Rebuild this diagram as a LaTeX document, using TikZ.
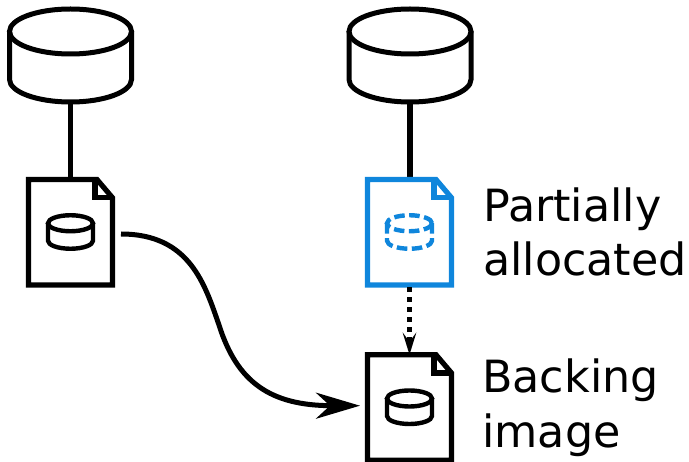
\documentclass[tikz,border=0pt]{standalone}
\usepackage{fontspec}
\setmainfont{DejaVu Sans}
\usetikzlibrary{arrows.meta}
\definecolor{allocblue}{HTML}{0F86DC}
\tikzset{
  x=1pt,y=-1pt,
  mainline/.style={line width=5.2pt,line join=miter},
  dbline/.style={},
  anchorbox/.style={inner sep=0pt,outer sep=0pt,draw=none},
  label/.style={anchor=base west,inner sep=0pt,font=\fontsize{44.4}{44.4}\selectfont},
  pics/dbcyl/.style args={#1/#2/#3}{code={
    \draw (0,0) ellipse [x radius=#1pt,y radius=#2pt];
    \draw (-#1,0) -- (-#1,#3) arc [start angle=180,end angle=360,x radius=#1pt,y radius=#2pt] -- (#1,0);
  }},
  pics/docfile/.style={code={
    \draw[mainline] (-42,-52.75) -- (26.5,-52.75) -- (42,-34.5) -- (42,52.75) -- (-42,52.75) -- cycle;
    \draw[mainline] (24.5,-52.75) -- (24.5,-34.5) -- (42,-34.5);
    \begin{scope}[line width=4.4pt,dbline]
      \pic at (0,-9) {dbcyl={22.5/8/17.5}};
    \end{scope}
  }},
}
\begin{document}
\begin{tikzpicture}
\useasboundingbox (0,0) rectangle (689,462);
\node[anchorbox,minimum width=122pt,minimum height=93pt] (cylA) at (70.5,55.5) {};
\node[anchorbox,minimum width=122pt,minimum height=93pt] (cylB) at (410,55.5) {};
\node[anchorbox,minimum width=84pt,minimum height=105.5pt] (fileA) at (70.5,232.25) {};
\node[anchorbox,minimum width=84pt,minimum height=105.5pt] (fileB) at (409.5,232.25) {};
\node[anchorbox,minimum width=84pt,minimum height=105.5pt] (fileC) at (409.5,407.5) {};
\coordinate (curveStart) at (121,234);
\coordinate (curveEnd) at (360,405.7);
\draw[line width=5.2pt] (cylA.south) -- (fileA.north);
\draw[line width=5.2pt] (cylB.south) -- (fileB.north -| cylB.south);
\begin{scope}[line width=5pt]
  \pic at (70.5,31.5) {dbcyl={61/22.5/48}};
  \pic at (410,31.5) {dbcyl={61/22.5/48}};
\end{scope}
\pic at (fileA) {docfile};
\pic[allocblue,dbline/.style={dash pattern=on 10.5pt off 4.5pt}] at (fileB) {docfile};
\pic at (fileC) {docfile};
\draw[line width=5.2pt,dash pattern=on 5pt off 5pt,-{Stealth[length=22pt,width=13.5pt,inset=9pt]}] (fileB.south) ++(0,2.5) -- (fileC.north);
\draw[line width=5pt,-{Stealth[length=44pt,width=26pt,inset=14pt]}] (curveStart) .. controls (190,234) and (205,285) .. (219,325) .. controls (237,382) and (270,405.7) .. (curveEnd);
\node[label] (labA) at (483,222) {Partially};
\node[label] (labB) at (483,276) {allocated};
\node[label] (labC) at (482,393) {Backing};
\node[label] (labD) at (482,448) {image};
\end{tikzpicture}
\end{document}
